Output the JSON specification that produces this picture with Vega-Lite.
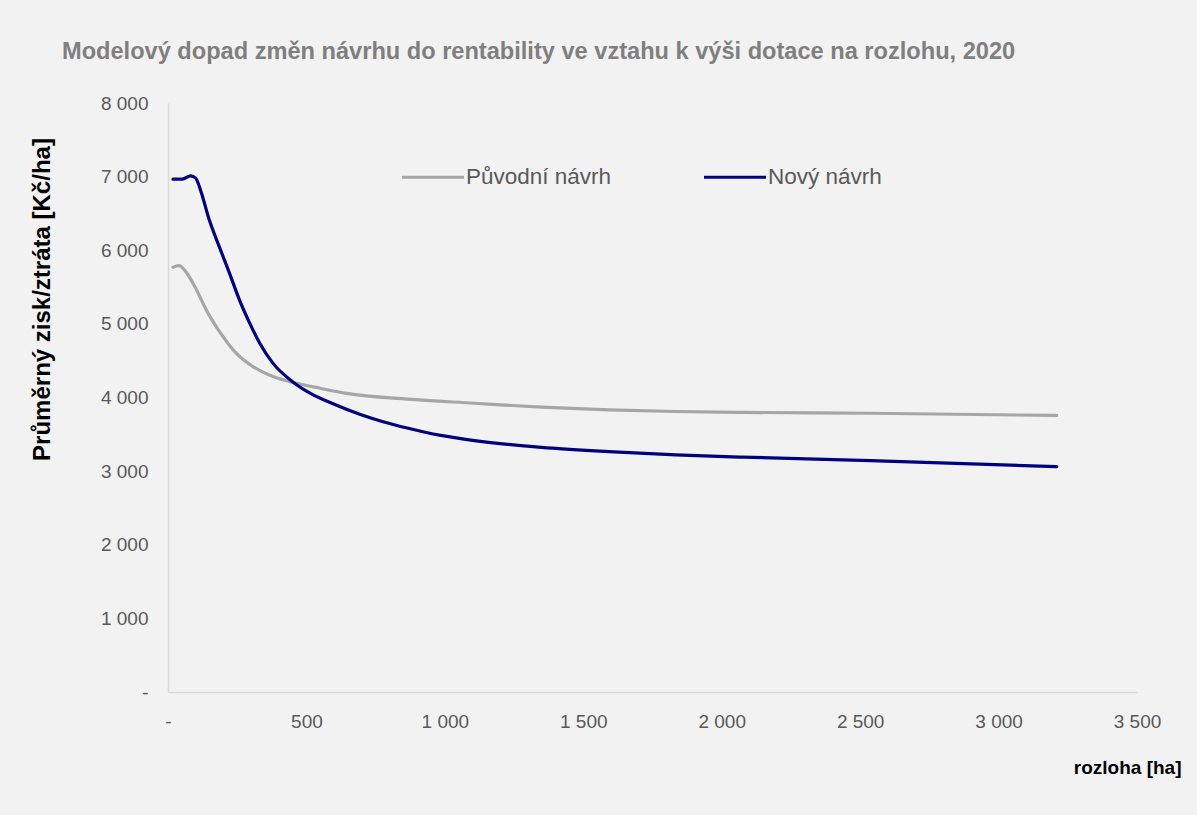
{
  "$schema": "https://vega.github.io/schema/vega-lite/v6.json",
  "width": 969,
  "height": 589,
  "autosize": {"type": "none"},
  "padding": {"left": 168, "top": 103, "right": 60, "bottom": 123},
  "background": "#f2f2f2",
  "config": {
    "view": {"stroke": null},
    "font": "Liberation Sans"
  },
  "title": {
    "text": "Modelový dopad změn návrhu do rentability ve vztahu k výši dotace na rozlohu, 2020",
    "anchor": "start",
    "frame": "group",
    "dx": -106,
    "offset": 30,
    "fontSize": 23.6,
    "fontWeight": "bold",
    "color": "#7f7f7f",
    "font": "Liberation Sans"
  },
  "data": {
    "values": [
      {"x": 18, "v": 5770, "s": "Původní návrh"},
      {"x": 40, "v": 5790, "s": "Původní návrh"},
      {"x": 64, "v": 5710, "s": "Původní návrh"},
      {"x": 100, "v": 5485, "s": "Původní návrh"},
      {"x": 137, "v": 5200, "s": "Původní návrh"},
      {"x": 161, "v": 5040, "s": "Původní návrh"},
      {"x": 198, "v": 4830, "s": "Původní návrh"},
      {"x": 246, "v": 4602, "s": "Původní návrh"},
      {"x": 307, "v": 4420, "s": "Původní návrh"},
      {"x": 379, "v": 4284, "s": "Původní návrh"},
      {"x": 464, "v": 4194, "s": "Původní návrh"},
      {"x": 549, "v": 4126, "s": "Původní návrh"},
      {"x": 646, "v": 4055, "s": "Původní návrh"},
      {"x": 864, "v": 3977, "s": "Původní návrh"},
      {"x": 1107, "v": 3922, "s": "Původní návrh"},
      {"x": 1349, "v": 3868, "s": "Původní návrh"},
      {"x": 1592, "v": 3831, "s": "Původní návrh"},
      {"x": 1834, "v": 3810, "s": "Původní návrh"},
      {"x": 2076, "v": 3798, "s": "Původní návrh"},
      {"x": 2537, "v": 3786, "s": "Původní návrh"},
      {"x": 3210, "v": 3756, "s": "Původní návrh"},
      {"x": 18, "v": 6966, "s": "Nový návrh"},
      {"x": 52, "v": 6966, "s": "Nový návrh"},
      {"x": 82, "v": 7011, "s": "Nový návrh"},
      {"x": 100, "v": 6980, "s": "Nový návrh"},
      {"x": 119, "v": 6798, "s": "Nový návrh"},
      {"x": 149, "v": 6413, "s": "Nový návrh"},
      {"x": 185, "v": 6050, "s": "Nový návrh"},
      {"x": 222, "v": 5690, "s": "Nový návrh"},
      {"x": 258, "v": 5326, "s": "Nový návrh"},
      {"x": 295, "v": 5010, "s": "Nový návrh"},
      {"x": 331, "v": 4740, "s": "Nový návrh"},
      {"x": 378, "v": 4470, "s": "Nový návrh"},
      {"x": 451, "v": 4212, "s": "Nový návrh"},
      {"x": 513, "v": 4060, "s": "Nový návrh"},
      {"x": 596, "v": 3915, "s": "Nový návrh"},
      {"x": 695, "v": 3770, "s": "Nový návrh"},
      {"x": 780, "v": 3668, "s": "Nový návrh"},
      {"x": 864, "v": 3585, "s": "Nový návrh"},
      {"x": 985, "v": 3485, "s": "Nový návrh"},
      {"x": 1107, "v": 3415, "s": "Nový návrh"},
      {"x": 1349, "v": 3322, "s": "Nový návrh"},
      {"x": 1592, "v": 3265, "s": "Nový návrh"},
      {"x": 1834, "v": 3222, "s": "Nový návrh"},
      {"x": 2076, "v": 3190, "s": "Nový návrh"},
      {"x": 2537, "v": 3143, "s": "Nový návrh"},
      {"x": 3210, "v": 3061, "s": "Nový návrh"}
    ]
  },
  "mark": {"type": "line", "interpolate": "monotone", "strokeWidth": 3.2, "strokeCap": "round"},
  "encoding": {
    "x": {
      "field": "x",
      "type": "quantitative",
      "scale": {"domain": [0, 3500], "nice": false, "zero": true},
      "axis": {
        "values": [0, 500, 1000, 1500, 2000, 2500, 3000, 3500],
        "labelExpr": "datum.value == 0 ? '-' : replace(format(datum.value, ','), ',', ' ')",
        "grid": false,
        "ticks": false,
        "domainColor": "#d9d9d9",
        "domainWidth": 1.5,
        "labelColor": "#595959",
        "labelFontSize": 19,
        "labelFont": "Liberation Sans",
        "labelPadding": 20,
        "labelFlush": false,
        "labelOverlap": false,
        "title": "rozloha [ha]",
        "titleFont": "Liberation Sans",
        "titleFontSize": 19,
        "titleFontWeight": "bold",
        "titleColor": "#000000",
        "titleAlign": "right",
        "titleAnchor": null,
        "titleBaseline": "middle",
        "titleX": 1013,
        "titleY": 75
      }
    },
    "y": {
      "field": "v",
      "type": "quantitative",
      "scale": {"domain": [0, 8000], "nice": false},
      "axis": {
        "values": [0, 1000, 2000, 3000, 4000, 5000, 6000, 7000, 8000],
        "labelExpr": "datum.value == 0 ? '-' : replace(format(datum.value, ','), ',', ' ')",
        "grid": false,
        "ticks": false,
        "domainColor": "#d9d9d9",
        "domainWidth": 1.5,
        "labelColor": "#595959",
        "labelFontSize": 19,
        "labelFont": "Liberation Sans",
        "labelPadding": 20,
        "labelFlush": false,
        "labelOverlap": false,
        "title": "Průměrný zisk/ztráta [Kč/ha]",
        "titleFont": "Liberation Sans",
        "titleFontSize": 24,
        "titleFontWeight": "bold",
        "titleColor": "#000000",
        "titleAngle": -90,
        "titleAlign": "center",
        "titleAnchor": null,
        "titleBaseline": "middle",
        "titleX": -126,
        "titleY": 196
      }
    },
    "color": {
      "field": "s",
      "type": "nominal",
      "scale": {"domain": ["Původní návrh", "Nový návrh"], "range": ["#a6a6a6", "#000080"]},
      "legend": {
        "title": null,
        "orient": "none",
        "direction": "horizontal",
        "legendX": 232,
        "legendY": 41,
        "symbolType": "stroke",
        "symbolSize": 3844,
        "symbolStrokeWidth": 3.2,
        "labelFontSize": 22.5,
        "labelFont": "Liberation Sans",
        "labelColor": "#595959",
        "labelOffset": 0,
        "columnPadding": 85
      }
    }
  }
}
